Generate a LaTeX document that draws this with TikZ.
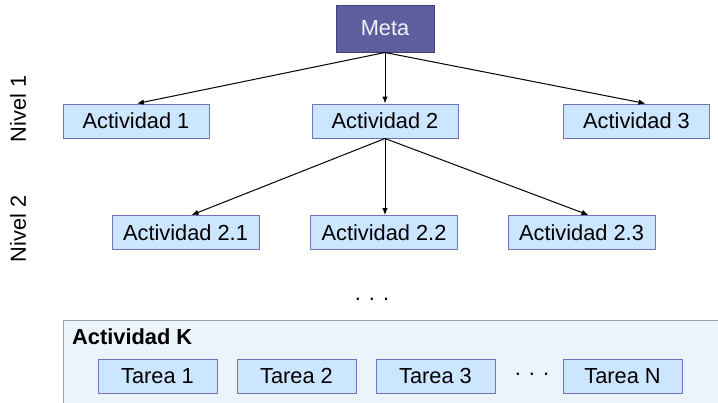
\documentclass[tikz,border=0pt]{standalone}
\usepackage{fontspec}
\setmainfont{Liberation Sans}
\usetikzlibrary{arrows.meta}
\definecolor{metafill}{HTML}{5E5E9E}
\definecolor{metaline}{HTML}{40407A}
\definecolor{boxfill}{HTML}{CCE6FF}
\definecolor{boxline}{HTML}{7373B8}
\definecolor{panelfill}{HTML}{EBF4FA}
\definecolor{panelline}{HTML}{A0A0A0}
\tikzset{
  txt/.style={font=\fontsize{21.8}{26}\selectfont, inner sep=0pt},
  actbox/.style={txt, draw=boxline, fill=boxfill, line width=1pt, minimum width=146pt, minimum height=34pt},
  taskbox/.style={actbox, minimum width=119pt},
  metabox/.style={txt, draw=metaline, fill=metafill, text=white!95!black, line width=1pt, minimum width=98pt, minimum height=47pt},
  conn/.style={line width=1pt, -{Latex[length=7pt,width=5.5pt]}},
}
\begin{document}
\begin{tikzpicture}[x=1pt,y=-1pt]
\useasboundingbox (0,0) rectangle (718,402);
\begin{scope}
\clip (0,0) rectangle (718,402);
\draw[panelline, fill=panelfill, line width=1pt] (63,320) rectangle (730,412);
\end{scope}
\node[metabox] (meta) at (385,28.5) {Meta};
\node[actbox] (a1) at (136,121) {Actividad 1};
\node[actbox] (a2) at (385,121) {Actividad 2};
\node[actbox] (a3) at (636.5,121) {Actividad 3};
\node[actbox, minimum width=147pt] (a21) at (185.5,232.5) {Actividad 2.1};
\node[actbox, minimum width=147pt] (a22) at (384,232.5) {Actividad 2.2};
\node[actbox, minimum width=147pt] (a23) at (581.5,232.5) {Actividad 2.3};
\node[txt, rotate=90] (n1) at (18,109) {Nivel 1};
\node[txt, rotate=90] (n2) at (18,229) {Nivel 2};
\node[txt] (vdots) at (372,299) {. . .};
\node[txt, font=\fontsize{21.8}{26}\selectfont\bfseries, anchor=west] (ak) at (72,337) {Actividad K};
\node[taskbox] (t1) at (157.5,376) {Tarea 1};
\node[taskbox] (t2) at (296.5,376) {Tarea 2};
\node[taskbox] (t3) at (435.5,376) {Tarea 3};
\node[txt] (hdots) at (532,374) {. . .};
\node[taskbox] (tn) at (622.5,376) {Tarea N};
\draw[conn] (meta.south) -- ([xshift=1pt]a1.north);
\draw[conn] (meta.south) -- (a2.north);
\draw[conn] (meta.south) -- ([xshift=9pt]a3.north);
\draw[conn] (a2.south) -- ([xshift=6pt]a21.north);
\draw[conn] (a2.south) -- ([xshift=1pt]a22.north);
\draw[conn] (a2.south) -- ([xshift=7pt]a23.north);
\end{tikzpicture}
\end{document}
